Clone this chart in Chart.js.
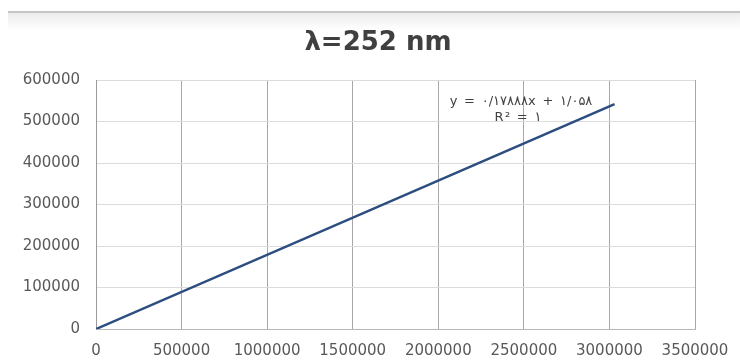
<!DOCTYPE html>
<html>
<head>
<meta charset="utf-8">
<title>λ=252 nm</title>
<script src="https://cdn.jsdelivr.net/npm/chart.js@4.4.1/dist/chart.umd.min.js"></script>
<style>
  html, body { margin: 0; padding: 0; background: #fff; }
  #wrap { width: 740px; height: 363px; }
</style>
</head>
<body>
<div id="wrap"><canvas id="calib" width="740" height="363"></canvas></div>
<script>
// Calibration line data (area vs concentration)
const titleText = 'λ=252 nm';
const xValues = [0, 3030000];
const yValues = [0, 542000];
const xTicks = [0, 500000, 1000000, 1500000, 2000000, 2500000, 3000000, 3500000];
const yTicks = [0, 100000, 200000, 300000, 400000, 500000, 600000];
const trendEquation = 'y = ۰/۱۷۸۸۸x + ۱/۰۵۸';
const trendR2 = 'R² = ۱';

const FONT = 'DejaVu Sans';
const TICK_COLOR = '#595959';

// Header rule and title above the plot
const headerPlugin = {
  id: 'header',
  beforeDraw(chart) {
    const ctx = chart.ctx;
    ctx.save();
    const g = ctx.createLinearGradient(0, 12, 0, 30);
    g.addColorStop(0, 'rgba(235,235,235,1)');
    g.addColorStop(1, 'rgba(255,255,255,1)');
    ctx.fillStyle = g;
    ctx.fillRect(8, 12, chart.width - 8, 18);
    ctx.fillStyle = '#c4c4c4';
    ctx.fillRect(8, 11, chart.width - 8, 2);
    ctx.fillStyle = '#404040';
    ctx.font = 'bold 26px "' + FONT + '"';
    ctx.textAlign = 'center';
    ctx.textBaseline = 'alphabetic';
    ctx.fillText(titleText, 378, 50);
    ctx.restore();
  }
};

// Trendline equation label near the end of the line
const trendLabelPlugin = {
  id: 'trendLabel',
  afterDatasetsDraw(chart) {
    const ctx = chart.ctx;
    ctx.save();
    ctx.fillStyle = '#404040';
    ctx.font = '13px "' + FONT + '"';
    ctx.letterSpacing = '1.3px';
    ctx.textAlign = 'center';
    ctx.textBaseline = 'middle';
    ctx.fillText(trendEquation, 521, 102);
    ctx.fillText(trendR2, 518, 118);
    ctx.restore();
  }
};

new Chart(document.getElementById('calib'), {
  type: 'scatter',
  data: {
    datasets: [{
      data: xValues.map((x, i) => ({ x: x, y: yValues[i] })),
      showLine: true,
      borderColor: '#2c4d80',
      borderWidth: 2.5,
      pointRadius: 0,
      tension: 0
    }]
  },
  options: {
    responsive: false,
    animation: false,
    layout: { padding: { top: 80, right: 45, bottom: 0, left: 0 } },
    plugins: {
      legend: { display: false },
      tooltip: { enabled: false },
      title: { display: false }
    },
    scales: {
      x: {
        type: 'linear',
        min: 0,
        max: 3500000,
        afterBuildTicks: (axis) => { axis.ticks = xTicks.map(v => ({ value: v })); },
        afterFit: (axis) => { axis.height = 34; axis.paddingRight = 0; axis.paddingLeft = 0; },
        grid: { color: '#a8a8a8', lineWidth: 1, drawTicks: false },
        border: { color: '#b8b8b8', width: 1 },
        ticks: {
          padding: 13,
          color: TICK_COLOR,
          font: { family: FONT, size: 15 },
          maxRotation: 0,
          autoSkip: false,
          callback: (v) => String(v)
        }
      },
      y: {
        type: 'linear',
        min: 0,
        max: 600000,
        afterBuildTicks: (axis) => { axis.ticks = yTicks.map(v => ({ value: v })); },
        afterFit: (axis) => { axis.width = 96; axis.paddingTop = 0; axis.paddingBottom = 0; },
        grid: { color: '#dcdcdc', lineWidth: 1, drawTicks: false },
        border: { color: '#9a9a9a', width: 1 },
        ticks: {
          padding: 16,
          color: TICK_COLOR,
          font: { family: FONT, size: 15 },
          autoSkip: false,
          callback: (v) => String(v)
        }
      }
    }
  },
  plugins: [headerPlugin, trendLabelPlugin]
});
</script>
</body>
</html>
